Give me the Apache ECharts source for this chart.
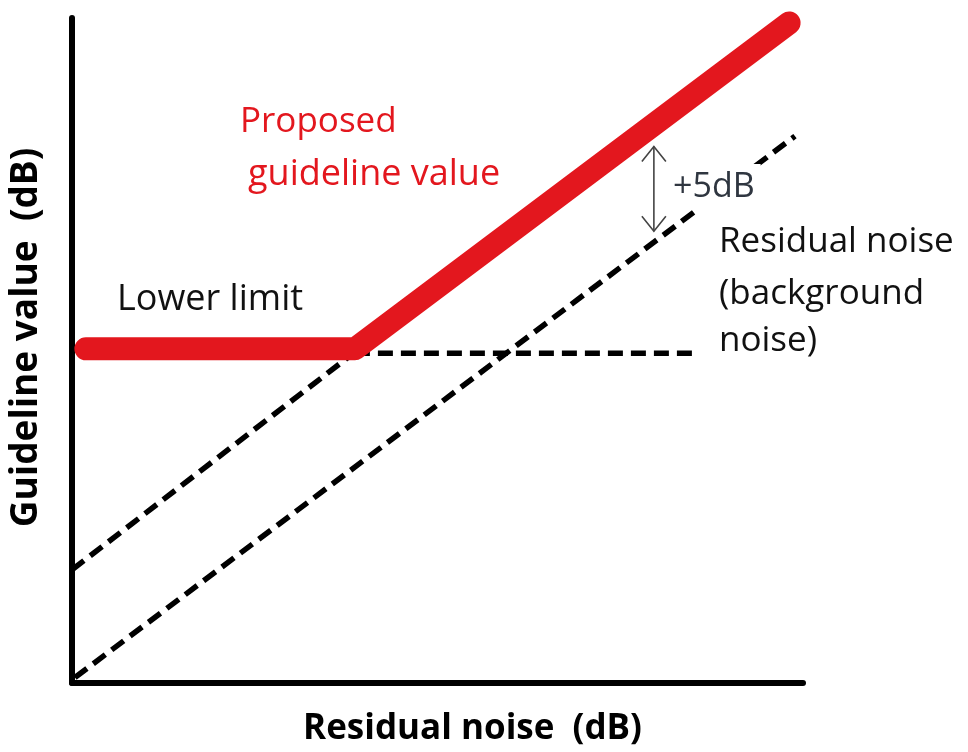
<!DOCTYPE html>
<html>
<head>
<meta charset="utf-8">
<title>Guideline value vs residual noise</title>
<script src="https://cdn.jsdelivr.net/npm/echarts@6/dist/echarts.min.js"></script>
<style>
  html, body { margin: 0; padding: 0; background: #fff; }
  #chart { width: 968px; height: 752px; }
</style>
</head>
<body>
<div id="chart"></div>
<script>
// schematic values (x: residual noise, y: guideline value)
let guidelineX = [1.9, 38.7, 98.1]
let guidelineY = [60.8, 60.8, 120.1]
let residualX = [0.4, 98.9]
let residualY = [1.0, 99.5]
let extensionX = [0, 38.7]   // guideline slope continued down to the axis
let extensionY = [20.6, 60.2]
let floorX = [38.7, 85.5]    // lower limit continued to the right
let floorY = [60.0, 60.0]
let gapX = 79.6              // the +5dB double arrow
let gapY = [97.6, 82.2]

let FONT = '"Open Sans", sans-serif'
let RED = '#e3171e'

function pairs (xs, ys) {
  let out = []
  for (let i = 0; i < xs.length; i++) {
    out.push([xs[i], ys[i]])
  }
  return out
}

function dashed (name, xs, ys) {
  return {
    name: name,
    type: 'line',
    data: pairs(xs, ys),
    symbol: 'none',
    silent: true,
    z: 2,
    lineStyle: { color: '#000', width: 5.5, type: [15, 8], cap: 'butt' }
  }
}

// open chevron heads on both ends, like the drawn arrow
function renderArrow (params, api) {
  let top = api.coord([api.value(0), api.value(1)])
  let bot = api.coord([api.value(0), api.value(2)])
  let w = 12
  let h = 15
  let style = { stroke: '#444', lineWidth: 1.6, fill: null }
  return {
    type: 'group',
    children: [
      { type: 'line', shape: { x1: top[0], y1: top[1], x2: bot[0], y2: bot[1] }, style: style },
      { type: 'polyline', shape: { points: [[top[0] - w, top[1] + h], top, [top[0] + w, top[1] + h]] }, style: style },
      { type: 'polyline', shape: { points: [[bot[0] - w, bot[1] - h], bot, [bot[0] + w, bot[1] - h]] }, style: style }
    ]
  }
}

function label (text, x, y, size, color, bg) {
  let el = {
    type: 'text',
    x: x,
    y: y,
    z: 10,
    style: {
      text: text,
      font: size + 'px ' + FONT,
      fill: color,
      textVerticalAlign: 'middle'
    }
  }
  if (bg) {
    // the +5dB text box hides the dashed line behind it
    el.style.backgroundColor = bg
    el.style.padding = [4, 6, 8, 2]
  }
  return el
}

let chart = echarts.init(document.getElementById('chart'))

chart.setOption({
  backgroundColor: '#fff',
  animation: false,
  grid: { left: 72, right: 165, top: 18, bottom: 63 },
  xAxis: {
    type: 'value',
    min: 0,
    max: 100,
    name: 'Residual noise  (dB)',
    nameLocation: 'middle',
    nameGap: 29,
    nameTextStyle: { fontFamily: FONT, fontWeight: 'bold', fontSize: 35, color: '#000', padding: [0, 0, 0, 70] },
    axisLine: { show: true, onZero: false, lineStyle: { color: '#000', width: 6 } },
    axisTick: { show: false },
    axisLabel: { show: false },
    splitLine: { show: false }
  },
  yAxis: {
    type: 'value',
    min: 0,
    max: 121,
    name: 'Guideline value  (dB)',
    nameLocation: 'middle',
    nameGap: 27,
    nameTextStyle: { fontFamily: FONT, fontWeight: 'bold', fontSize: 37, color: '#000', padding: [0, 0, 0, 26] },
    axisLine: { show: true, onZero: false, lineStyle: { color: '#000', width: 6 } },
    axisTick: { show: false },
    axisLabel: { show: false },
    splitLine: { show: false }
  },
  series: [
    dashed('Residual noise', residualX, residualY),
    dashed('Guideline extension', extensionX, extensionY),
    dashed('Lower limit', floorX, floorY),
    {
      name: 'Proposed guideline value',
      type: 'line',
      data: pairs(guidelineX, guidelineY),
      symbol: 'none',
      silent: true,
      z: 3,
      lineStyle: { color: RED, width: 23, cap: 'round', join: 'round' }
    },
    {
      name: '+5dB',
      type: 'custom',
      renderItem: renderArrow,
      data: [[gapX, gapY[0], gapY[1]]],
      silent: true,
      z: 4
    }
  ],
  graphic: [
    label('Proposed', 240, 122, 35, RED),
    label('guideline value', 248, 175, 36, RED),
    label('Lower limit', 117, 300, 36, '#111'),
    label('+5dB', 671, 187, 34, '#2f3640', '#fff'),
    label('Residual noise', 719, 242, 35, '#111'),
    label('(background', 719, 294, 35, '#111'),
    label('noise)', 719, 341, 35, '#111')
  ]
})
</script>
</body>
</html>
